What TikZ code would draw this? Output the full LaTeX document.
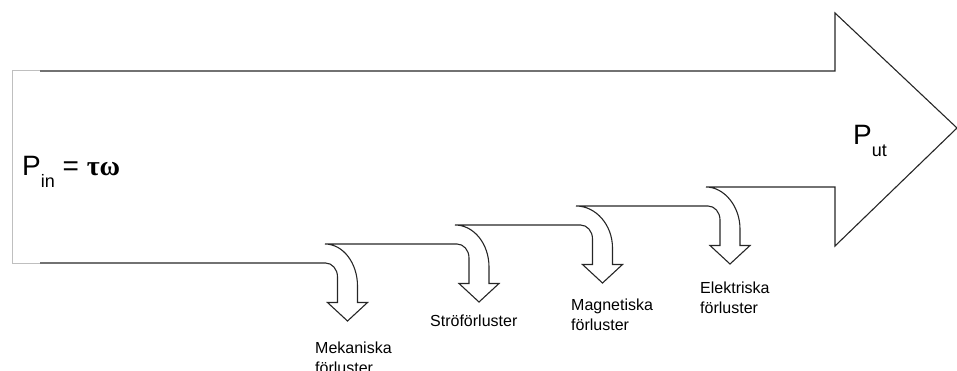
\documentclass[tikz,border=0pt]{standalone}
\usepackage{fontspec}
\setmainfont{Liberation Sans}
\newfontfamily\serifgr{Liberation Serif}
\tikzset{
  outline/.style={draw=black!85, line width=1.1pt, line join=miter},
  faint/.style={draw=black!25, line width=1pt},
  losslabel/.style={anchor=base west, inner sep=0pt, font=\fontsize{16}{20}\selectfont},
  biglabel/.style={anchor=base west, inner sep=0pt, font=\fontsize{28}{34}\selectfont}
}
\newcommand{\twolines}[2]{\begin{tabular}[t]{@{}l@{}}#1\\#2\end{tabular}}
\begin{document}
\begin{tikzpicture}[x=1pt,y=-1pt]
\useasboundingbox (0,0) rectangle (957,371);
% faint left end of the big arrow
\draw[faint] (40,71) -- (12,71) -- (12,263) -- (40,263);
% big arrow with the four loss arrows
\draw[outline]
  (40,71) -- (835,71) -- (835,13) -- (957,128) -- (835,246) -- (835,187) -- (706,187)
  .. controls (724,187) and (740,206) .. (740,229) -- (740,245.5) -- (750,245.5) -- (730,264) -- (710,245.5) -- (720,245.5) -- (720,220)
  .. controls (720,212) and (714.5,206) .. (708,206)
  -- (576,206)
  .. controls (596,206) and (612.5,225) .. (612.5,248) -- (612.5,264.5) -- (622.5,264.5) -- (602.5,283) -- (582.5,264.5) -- (592.5,264.5) -- (592.5,239)
  .. controls (592.5,231) and (587,225) .. (580.5,225)
  -- (455,225)
  .. controls (474,225) and (489,244) .. (489,267) -- (489,283.5) -- (499,283.5) -- (479,302) -- (459,283.5) -- (469,283.5) -- (469,258)
  .. controls (469,250) and (463.5,244) .. (457,244)
  -- (325,244)
  .. controls (343,244) and (357.5,263) .. (357.5,286) -- (357.5,302.5) -- (367.5,302.5) -- (347.5,321) -- (327.5,302.5) -- (337.5,302.5) -- (337.5,277)
  .. controls (337.5,269) and (332,263) .. (325.5,263)
  -- (40,263);
% labels
\node[biglabel] (pin) at (22,176) {P\raisebox{-12pt}{\fontsize{18}{22}\selectfont in} = {\serifgr\bfseries τω}};
\node[biglabel] (put) at (853,145) {P\raisebox{-12pt}{\fontsize{18}{22}\selectfont ut}};
\node[losslabel] (mek) at (315,353) {\twolines{Mekaniska}{förluster}};
\node[losslabel] (stro) at (430,326) {Ströförluster};
\node[losslabel] (mag) at (571,310) {\twolines{Magnetiska}{förluster}};
\node[losslabel] (elek) at (700,293) {\twolines{Elektriska}{förluster}};
\end{tikzpicture}
\end{document}
